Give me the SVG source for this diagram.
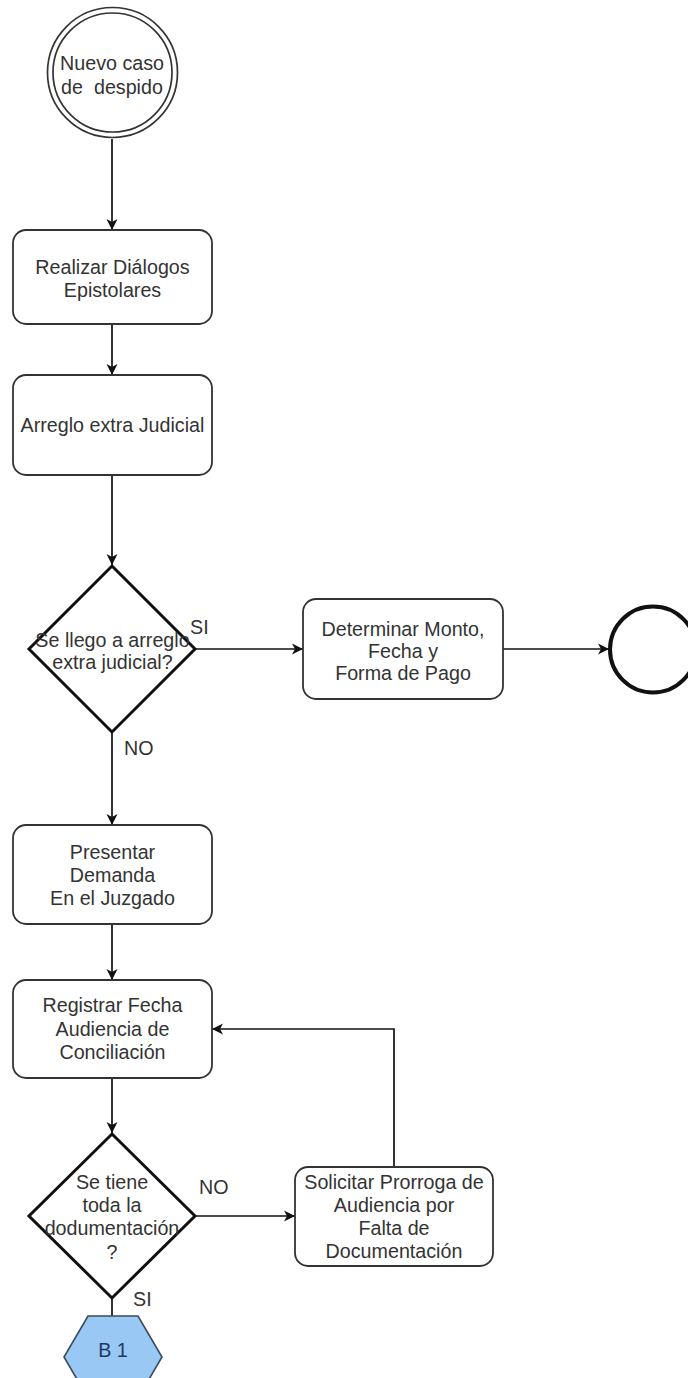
<svg xmlns="http://www.w3.org/2000/svg" width="688" height="1378" viewBox="0 0 688 1378">
  <style>
    .bg { fill: #ffffff; }
    .proc { fill: #ffffff; stroke: #333333; stroke-width: 1.8; }
    .dec { fill: #ffffff; stroke: #111111; stroke-width: 3; }
    .lbl { font-family: "Liberation Sans", Arial, sans-serif; font-size: 19.7px; fill: #333333; text-anchor: middle; }
    .edge-lbl { font-family: "Liberation Sans", Arial, sans-serif; font-size: 19.7px; fill: #333333; text-anchor: start; }
    .edge { fill: none; stroke: #111111; stroke-width: 1.7; }
  </style>
  <defs>
    <marker id="arrow" markerUnits="userSpaceOnUse" markerWidth="14" markerHeight="14" refX="12" refY="7" orient="auto">
      <path d="M1,1.5 L12,7 L1,12.5 L4,7 z" fill="#111111"/>
    </marker>
  </defs>
  <rect class="bg" x="0" y="0" width="688" height="1378"/>

  <!-- connectors -->
  <g id="connectors">
    <line class="edge" x1="112" y1="139" x2="112" y2="230" marker-end="url(#arrow)"/>
    <line class="edge" x1="112" y1="324" x2="112" y2="375" marker-end="url(#arrow)"/>
    <line class="edge" x1="112" y1="475" x2="112" y2="565" marker-end="url(#arrow)"/>
    <line class="edge" x1="195" y1="649" x2="303" y2="649" marker-end="url(#arrow)"/>
    <line class="edge" x1="503" y1="649" x2="609" y2="649" marker-end="url(#arrow)"/>
    <line class="edge" x1="112" y1="732" x2="112" y2="825" marker-end="url(#arrow)"/>
    <line class="edge" x1="112" y1="924" x2="112" y2="980" marker-end="url(#arrow)"/>
    <line class="edge" x1="112" y1="1078" x2="112" y2="1133" marker-end="url(#arrow)"/>
    <line class="edge" x1="195" y1="1216" x2="295" y2="1216" marker-end="url(#arrow)"/>
    <polyline class="edge" points="394,1167 394,1029 212,1029" marker-end="url(#arrow)"/>
    <line class="edge" x1="112" y1="1298" x2="112" y2="1316"/>
    <text class="edge-lbl" x="190" y="634">SI</text>
    <text class="edge-lbl" x="124" y="755">NO</text>
    <text class="edge-lbl" x="199" y="1194">NO</text>
    <text class="edge-lbl" x="133" y="1306">SI</text>
  </g>

  <!-- start event -->
  <g id="start">
    <circle cx="112.5" cy="72.5" r="65" fill="#ffffff" stroke="#333333" stroke-width="1.7"/>
    <circle cx="112.5" cy="72.5" r="59.5" fill="none" stroke="#333333" stroke-width="1.7"/>
    <text class="lbl" x="112" y="70">Nuevo caso</text>
    <text class="lbl" x="112" y="94" xml:space="preserve">de  despido</text>
  </g>

  <g id="dialogos">
    <rect class="proc" x="13" y="230" width="199" height="94" rx="13"/>
    <text class="lbl" x="112.5" y="274">Realizar Diálogos</text>
    <text class="lbl" x="112.5" y="297">Epistolares</text>
  </g>

  <g id="arreglo">
    <rect class="proc" x="13" y="375" width="199" height="100" rx="13"/>
    <text class="lbl" x="112.5" y="432">Arreglo extra Judicial</text>
  </g>

  <g id="decision-arreglo">
    <polygon class="dec" points="112,566 195,649 112,732 29,649"/>
    <text class="lbl" x="112.5" y="647">Se llego a arreglo</text>
    <text class="lbl" x="112.5" y="669">extra judicial?</text>
  </g>

  <g id="monto">
    <rect class="proc" x="303" y="599" width="200" height="100" rx="13"/>
    <text class="lbl" x="403" y="636">Determinar Monto,</text>
    <text class="lbl" x="403" y="658">Fecha y</text>
    <text class="lbl" x="403" y="680">Forma de Pago</text>
  </g>

  <g id="end">
    <circle cx="653" cy="649.5" r="43" fill="#ffffff" stroke="#111111" stroke-width="4"/>
  </g>

  <g id="demanda">
    <rect class="proc" x="13" y="825" width="199" height="99" rx="13"/>
    <text class="lbl" x="112.5" y="859">Presentar</text>
    <text class="lbl" x="112.5" y="882">Demanda</text>
    <text class="lbl" x="112.5" y="905">En el Juzgado</text>
  </g>

  <g id="audiencia">
    <rect class="proc" x="13" y="980" width="199" height="98" rx="13"/>
    <text class="lbl" x="112.5" y="1012">Registrar Fecha</text>
    <text class="lbl" x="112.5" y="1036">Audiencia de</text>
    <text class="lbl" x="112.5" y="1059">Conciliación</text>
  </g>

  <g id="decision-documentacion">
    <polygon class="dec" points="112,1134 195,1216 112,1298 29,1216"/>
    <text class="lbl" x="112" y="1189">Se tiene</text>
    <text class="lbl" x="112" y="1212">toda la</text>
    <text class="lbl" x="112" y="1235">dodumentación</text>
    <text class="lbl" x="112" y="1259">?</text>
  </g>

  <g id="prorroga">
    <rect class="proc" x="295" y="1167" width="198" height="99" rx="13"/>
    <text class="lbl" x="394" y="1189">Solicitar Prorroga de</text>
    <text class="lbl" x="394" y="1212">Audiencia por</text>
    <text class="lbl" x="394" y="1235">Falta de</text>
    <text class="lbl" x="394" y="1258">Documentación</text>
  </g>

  <g id="b1">
    <polygon points="88,1316 138,1316 162,1357 138,1398 88,1398 64,1357" fill="#99c8f5" stroke="#3b4a5a" stroke-width="1.6"/>
    <text class="lbl" x="113" y="1357" style="fill:#1f3a5f">B 1</text>
  </g>
</svg>
